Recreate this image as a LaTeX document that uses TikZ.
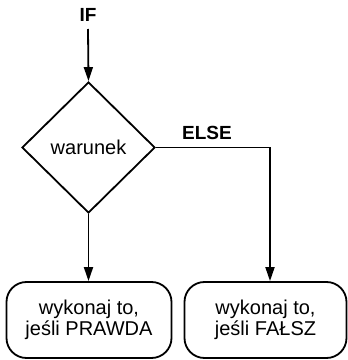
\documentclass[tikz,border=0pt]{standalone}
\usepackage{fontspec}
\setmainfont{Liberation Sans}
\usetikzlibrary{shapes.geometric,arrows.meta}
\begin{document}
\begin{tikzpicture}[x=1pt,y=1pt,
  line width=1.8pt,
  flow/.style={-{Triangle[length=14pt,width=9pt]}},
  cond/.style={draw,diamond,aspect=1,inner sep=0pt,minimum width=133pt,minimum height=131pt,font=\fontsize{20}{21}\selectfont},
  action/.style={draw,rounded corners=20pt,minimum width=165pt,minimum height=76pt,align=center,font=\fontsize{20}{21}\selectfont},
  tag/.style={font=\fontsize{19}{20}\selectfont\bfseries}]
\useasboundingbox (0,0) rectangle (348,360);
\node[tag] (if) at (88,345) {IF};
\coordinate (start) at (88,331);
\node[cond] (w) at (88.5,212.5) {warunek};
\node[action] (yes) at (89,40) {wykonaj to,\\jeśli PRAWDA};
\node[action,minimum width=162pt] (no) at (265.5,40) {wykonaj to,\\jeśli FAŁSZ};
\coordinate (bend) at (270,212.5);
\node[tag] (else) at (207,227) {ELSE};
\draw[flow] (start) -- (w.north);
\draw[flow] (w.south) -- (yes.north -| w.south);
\draw[flow] (w.east) -- (bend) -- (bend |- no.north);
\end{tikzpicture}
\end{document}
